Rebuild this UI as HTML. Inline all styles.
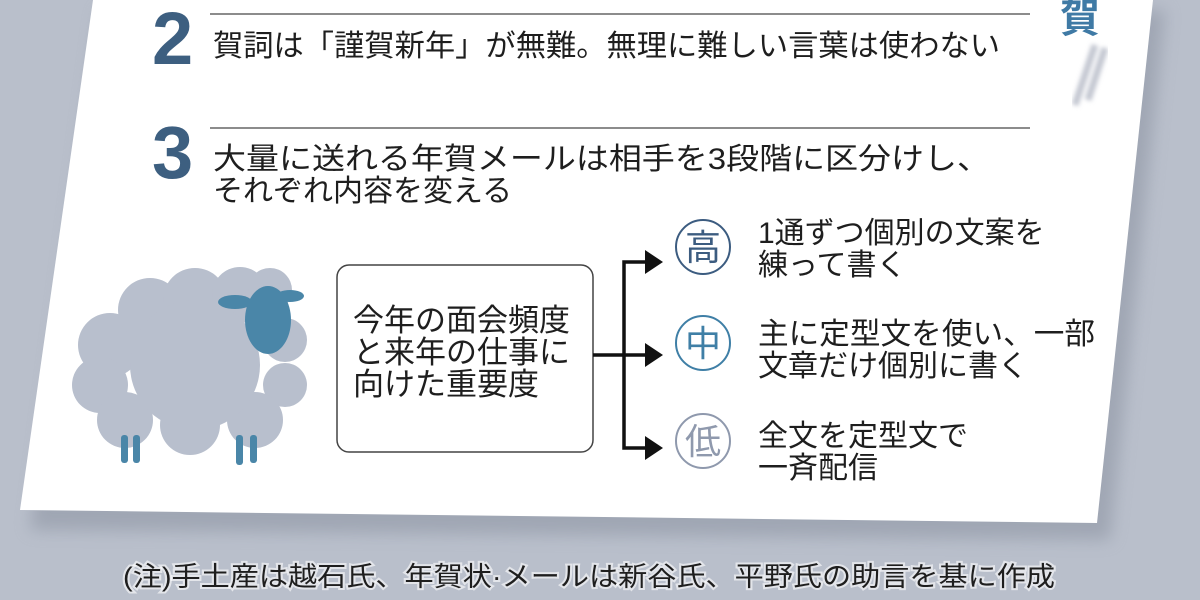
<!DOCTYPE html>
<html><head><meta charset="utf-8"><style>
html,body{margin:0;padding:0;width:1200px;height:600px;overflow:hidden;background:#b9bfcb}
svg{display:block}
text{font-family:"Liberation Sans","Noto Sans CJK JP",sans-serif;fill:#1e1e1e}
</style></head><body>
<svg width="1200" height="600" viewBox="0 0 1200 600" xmlns="http://www.w3.org/2000/svg">
<defs>
<filter id="sh" x="-10%" y="-10%" width="130%" height="130%"><feGaussianBlur stdDeviation="8"/></filter>
<filter id="bl"><feGaussianBlur stdDeviation="2"/></filter>
</defs>
<rect width="1200" height="600" fill="#b9bfcb"/>
<polygon points="100,10 1165,10 1110,540 30,530" fill="#8f96a4" opacity="0.6" filter="url(#sh)"/>
<polygon points="93,0 1153,0 1097,523 20,510" fill="#ffffff"/>
<path d="M1095,45 L1075,105 M1105,48 L1088,100" stroke="#c4c8d2" stroke-width="7" filter="url(#bl)"/>
<text x="1060" y="32" font-size="40" font-weight="bold" style="fill:#3f7aa5">賀</text>
<line x1="210" y1="14" x2="1030" y2="14" stroke="#666" stroke-width="1.5"/>
<line x1="210" y1="128" x2="1030" y2="128" stroke="#666" stroke-width="1.5"/>
<text x="152" y="64" font-size="74" font-weight="bold" style="fill:#3d5f80">2</text>
<text x="152" y="178" font-size="74" font-weight="bold" style="fill:#3d5f80">3</text>
<text x="213" y="56" font-size="30" textLength="787" lengthAdjust="spacingAndGlyphs">賀詞は「謹賀新年」が無難。無理に難しい言葉は使わない</text>
<text x="213" y="169" font-size="30" textLength="777" lengthAdjust="spacingAndGlyphs">大量に送れる年賀メールは相手を3段階に区分けし、</text>
<text x="213" y="201" font-size="30">それぞれ内容を変える</text>
<g fill="#b8bfcd">
<circle cx="110" cy="345" r="32"/><circle cx="100" cy="385" r="28"/><circle cx="125" cy="420" r="28"/>
<circle cx="150" cy="310" r="32"/><circle cx="195" cy="300" r="32"/><circle cx="240" cy="295" r="28"/>
<circle cx="270" cy="290" r="22"/><circle cx="285" cy="340" r="22"/><circle cx="285" cy="385" r="22"/>
<circle cx="255" cy="420" r="28"/><circle cx="190" cy="425" r="30"/><circle cx="195" cy="365" r="65"/>
</g>
<g fill="#4a86a8">
<rect x="121" y="435" width="7" height="28" rx="3"/><rect x="133" y="435" width="7" height="28" rx="3"/>
<rect x="236" y="435" width="7" height="30" rx="3"/><rect x="250" y="435" width="7" height="28" rx="3"/>
<ellipse cx="268" cy="320" rx="23" ry="34"/>
<ellipse cx="235" cy="302" rx="17" ry="7"/><ellipse cx="290" cy="296" rx="14" ry="6"/>
</g>
<rect x="337" y="265" width="256" height="187" rx="12" fill="#fff" stroke="#444" stroke-width="1.5"/>
<text x="353" y="331" font-size="31">今年の面会頻度</text>
<text x="353" y="363" font-size="31">と来年の仕事に</text>
<text x="353" y="395" font-size="31">向けた重要度</text>
<g stroke="#111" stroke-width="3.5" fill="none">
<line x1="593" y1="355" x2="624" y2="355"/>
<polyline points="648,262 624,262 624,448 648,448"/>
<line x1="624" y1="355" x2="648" y2="355"/>
</g>
<g fill="#111">
<polygon points="645,250 663,262 645,274"/>
<polygon points="645,343 663,355 645,367"/>
<polygon points="645,436 663,448 645,460"/>
</g>
<circle cx="703" cy="247" r="27" fill="none" stroke="#3c5c80" stroke-width="2"/>
<text x="703" y="260" font-size="36" text-anchor="middle" style="fill:#3c5c80">高</text>
<circle cx="703" cy="343" r="27" fill="none" stroke="#3f7fa6" stroke-width="2"/>
<text x="703" y="356" font-size="36" text-anchor="middle" style="fill:#3f7fa6">中</text>
<circle cx="703" cy="441" r="27" fill="none" stroke="#8f99ad" stroke-width="2"/>
<text x="703" y="454" font-size="36" text-anchor="middle" style="fill:#8f99ad">低</text>
<text x="758" y="243" font-size="30">1通ずつ個別の文案を</text>
<text x="758" y="275" font-size="30">練って書く</text>
<text x="758" y="344" font-size="30" textLength="337" lengthAdjust="spacingAndGlyphs">主に定型文を使い、一部</text>
<text x="758" y="376" font-size="30">文章だけ個別に書く</text>
<text x="758" y="446" font-size="30">全文を定型文で</text>
<text x="758" y="478" font-size="30">一斉配信</text>
<text x="123" y="586" font-size="27" textLength="932" lengthAdjust="spacingAndGlyphs" stroke="#ffffff" stroke-width="4" stroke-opacity="0.6" paint-order="stroke">(注)手土産は越石氏、年賀状·メールは新谷氏、平野氏の助言を基に作成</text>
</svg>
</body></html>
